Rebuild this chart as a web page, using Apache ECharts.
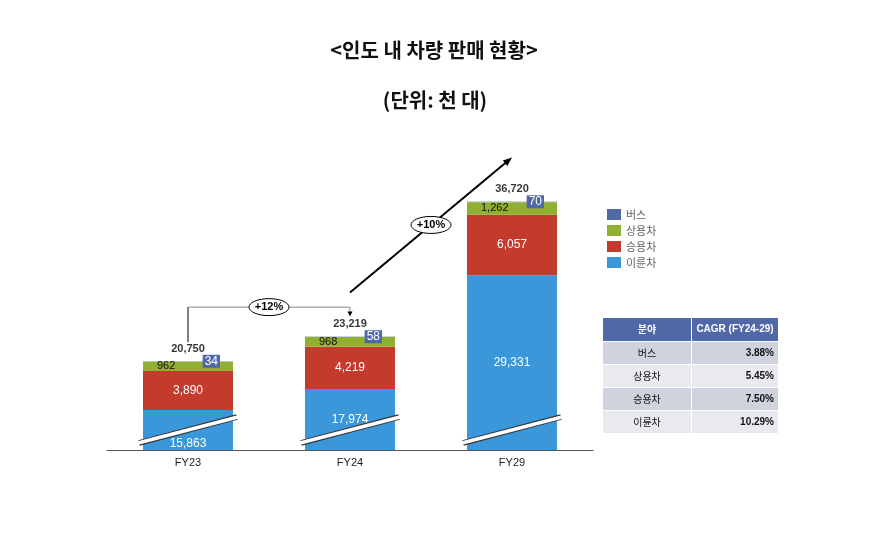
<!DOCTYPE html>
<html>
<head>
<meta charset="utf-8">
<script src="https://cdn.jsdelivr.net/npm/echarts@6/dist/echarts.min.js"></script>
<style>
html, body { margin: 0; background: #fff; }
#main { width: 881px; height: 554px; }
</style>
</head>
<body>
<div id="main"></div>
<script>
// 인도 내 차량 판매 (천 대)
var years = ['FY23', 'FY24', 'FY29'];
var twoWheel = [15863, 17974, 29331];
var passenger = [3890, 4219, 6057];
var commercial = [962, 968, 1262];
var bus = [34, 58, 70];
var totals = [20750, 23219, 36720];
var growth = ['+12%', '+10%'];
var segNames = ['버스', '상용차', '승용차', '이륜차'];
var cagr = ['3.88%', '5.45%', '7.50%', '10.29%'];

var C_BUS = '#5068a8', C_COM = '#8fb030', C_PAS = '#c33b2d', C_TWO = '#3a98da';
var FONT = 'Liberation Sans, Arial, sans-serif';
var KFONT = 'Noto Sans CJK KR, sans-serif';

function fmt(v) { return v.toLocaleString('en-US'); }

var myChart = echarts.init(document.getElementById('main'));

var option = {
    animation: false,
    title: [
        { text: '<인도 내 차량 판매 현황>', left: 429, top: 35, textAlign: 'center',
          textStyle: { fontSize: 20, fontWeight: 'bold', color: '#111', fontFamily: KFONT } },
        { text: '(단위: 천 대)', left: 430, top: 85, textAlign: 'center',
          textStyle: { fontSize: 20, fontWeight: 'bold', color: '#111', fontFamily: KFONT } }
    ],
    legend: {
        orient: 'vertical',
        left: 602,
        top: 204,
        itemWidth: 14,
        itemHeight: 11,
        itemGap: 5,
        icon: 'rect',
        data: [{ name: '버스', itemStyle: { color: C_BUS } }, '상용차', '승용차', '이륜차'],
        textStyle: { fontSize: 11, color: '#666', fontFamily: KFONT }
    },
    grid: { left: 107, top: 150, width: 486, height: 300 },
    xAxis: {
        type: 'category',
        data: years,
        axisLine: { lineStyle: { color: '#555', width: 1 } },
        axisTick: { show: false },
        axisLabel: { fontSize: 11, color: '#222', fontFamily: FONT, margin: 7 }
    },
    yAxis: {
        type: 'value',
        min: 0,
        max: 41863,
        breaks: [{ start: 2000, end: 13863, gap: 0 }],
        breakArea: { show: false },
        axisLine: { show: false },
        axisTick: { show: false },
        axisLabel: { show: false },
        splitLine: { show: false }
    },
    series: [
        {
            name: '이륜차', type: 'bar', stack: 'all', barWidth: 90,
            itemStyle: { color: C_TWO },
            label: { show: true, position: 'inside', color: '#fff', fontSize: 12, fontFamily: FONT,
                     formatter: function (p) { return fmt(p.value); } },
            data: twoWheel.map(function (v, i) {
                return i === 0 ? { value: v, label: { offset: [0, 14] } } : v;
            })
        },
        {
            name: '승용차', type: 'bar', stack: 'all',
            itemStyle: { color: C_PAS },
            label: { show: true, position: 'inside', color: '#fff', fontSize: 12, fontFamily: FONT,
                     formatter: function (p) { return fmt(p.value); } },
            data: passenger
        },
        {
            name: '상용차', type: 'bar', stack: 'all',
            itemStyle: { color: C_COM },
            label: { show: true, position: 'insideLeft', distance: 14, color: '#111', fontSize: 11, fontFamily: FONT,
                     formatter: function (p) { return fmt(p.value); } },
            data: commercial
        },
        {
            name: '버스', type: 'bar', stack: 'all',
            itemStyle: { color: '#9aa3b8' },
            label: { show: true, position: 'insideRight', distance: 13, color: '#fff', fontSize: 12,
                     fontFamily: FONT, backgroundColor: C_BUS, padding: [1, 2, 0, 2],
                     formatter: function (p) { return fmt(p.value); } },
            data: bus
        },
        {
            name: 'total', type: 'scatter', symbolSize: 0, silent: true,
            label: { show: true, position: 'top', distance: 7, color: '#000', fontSize: 11,
                     fontWeight: 'bold', fontFamily: FONT,
                     formatter: function (p) { return fmt(p.value); } },
            data: totals
        }
    ]
};
myChart.setOption(option);

// annotations anchored to the chart's own scales
function px(i, v) { return myChart.convertToPixel({ gridIndex: 0 }, [years[i], v]); }

function arrowHead(x, y, ang, len, w) {
    var bx = x - Math.cos(ang) * len, by = y - Math.sin(ang) * len;
    var nx = -Math.sin(ang) * w / 2, ny = Math.cos(ang) * w / 2;
    return { type: 'polygon', shape: { points: [[x, y], [bx + nx, by + ny], [bx - nx, by - ny]] },
             style: { fill: '#000' }, z: 20 };
}

var g = [];

// broken-axis marks on each bar
years.forEach(function (y, i) {
    var p = px(i, 2000);
    var x1 = p[0] - 49, x2 = p[0] + 49, y1 = p[1] + 13, y2 = p[1] - 13;
    g.push({ type: 'line', shape: { x1: x1, y1: y1, x2: x2, y2: y2 },
             style: { stroke: '#333', lineWidth: 5.5 }, z: 10 });
    g.push({ type: 'line', shape: { x1: x1 - 1, y1: y1, x2: x2 + 1, y2: y2 },
             style: { stroke: '#fff', lineWidth: 3.5 }, z: 11 });
});

// FY23 -> FY24 elbow arrow
var t0 = px(0, totals[0]), t1 = px(1, totals[1]), t2 = px(2, totals[2]);
var elbowY = t0[1] - 54;
g.push({ type: 'polyline', shape: { points: [[t0[0], t0[1] - 19], [t0[0], elbowY]] },
         style: { stroke: '#000', lineWidth: 1, fill: null }, z: 20 });
g.push({ type: 'polyline', shape: { points: [[t0[0], elbowY], [t1[0], elbowY], [t1[0], t1[1] - 24]] },
         style: { stroke: '#888', lineWidth: 1, fill: null }, z: 20 });
g.push(arrowHead(t1[0], t1[1] - 20, Math.PI / 2, 5, 5));
var e1x = (t0[0] + t1[0]) / 2;
g.push({ type: 'ellipse', shape: { cx: e1x, cy: elbowY, rx: 20, ry: 8.5 },
         style: { fill: '#fff', stroke: '#000', lineWidth: 1 }, z: 21 });
g.push({ type: 'text', x: e1x, y: elbowY, z: 22,
         style: { text: growth[0], align: 'center', verticalAlign: 'middle', fontSize: 11,
                  fontWeight: 'bold', fontFamily: FONT, fill: '#000' } });

// FY24 -> FY29 straight arrow
var sx = t1[0], sy = t1[1] - 44, ex = t2[0], ey = t2[1] - 44;
var ang = Math.atan2(ey - sy, ex - sx);
g.push({ type: 'line', shape: { x1: sx, y1: sy, x2: ex - Math.cos(ang) * 6, y2: ey - Math.sin(ang) * 6 },
         style: { stroke: '#000', lineWidth: 2 }, z: 20 });
g.push(arrowHead(ex, ey, ang, 9, 7));
var e2x = (sx + ex) / 2, e2y = (sy + ey) / 2;
g.push({ type: 'ellipse', shape: { cx: e2x, cy: e2y, rx: 20, ry: 8.5 },
         style: { fill: '#fff', stroke: '#000', lineWidth: 1 }, z: 21 });
g.push({ type: 'text', x: e2x, y: e2y, z: 22,
         style: { text: growth[1], align: 'center', verticalAlign: 'middle', fontSize: 11,
                  fontWeight: 'bold', fontFamily: FONT, fill: '#000' } });

// CAGR table
var tx = 603, ty = 318, w1 = 88, w2 = 86, hh = 23, rh = 22, gapW = 1;
g.push({ type: 'rect', shape: { x: tx, y: ty, width: w1, height: hh }, style: { fill: C_BUS } });
g.push({ type: 'rect', shape: { x: tx + w1 + gapW, y: ty, width: w2, height: hh }, style: { fill: C_BUS } });
g.push({ type: 'text', x: tx + w1 / 2, y: ty + hh / 2,
         style: { text: '분야', align: 'center', verticalAlign: 'middle', fontSize: 10,
                  fontWeight: 'bold', fontFamily: KFONT, fill: '#fff' } });
g.push({ type: 'text', x: tx + w1 + gapW + w2 / 2, y: ty + hh / 2,
         style: { text: 'CAGR (FY24-29)', align: 'center', verticalAlign: 'middle', fontSize: 10,
                  fontWeight: 'bold', fontFamily: FONT, fill: '#fff' } });
segNames.forEach(function (name, i) {
    var ry = ty + hh + gapW + i * (rh + gapW);
    var fill = i % 2 === 0 ? '#cfd3de' : '#e8eaf0';
    g.push({ type: 'rect', shape: { x: tx, y: ry, width: w1, height: rh }, style: { fill: fill } });
    g.push({ type: 'rect', shape: { x: tx + w1 + gapW, y: ry, width: w2, height: rh }, style: { fill: fill } });
    g.push({ type: 'text', x: tx + w1 / 2, y: ry + rh / 2,
             style: { text: name, align: 'center', verticalAlign: 'middle', fontSize: 10,
                      fontFamily: KFONT, fill: '#111' } });
    g.push({ type: 'text', x: tx + w1 + gapW + w2 - 4, y: ry + rh / 2,
             style: { text: cagr[i], align: 'right', verticalAlign: 'middle', fontSize: 10,
                      fontWeight: 'bold', fontFamily: FONT, fill: '#111' } });
});

myChart.setOption({ graphic: g });
</script>
</body>
</html>
